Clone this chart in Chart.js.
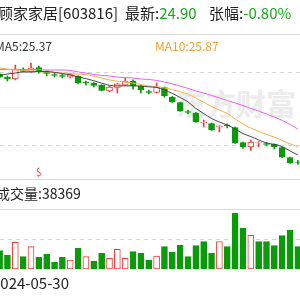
<!DOCTYPE html>
<html>
<head>
<meta charset="utf-8">
<script src="https://cdn.jsdelivr.net/npm/chart.js@4.4.1/dist/chart.umd.min.js"></script>
<style>
  body { margin: 0; background: #fff; }
  #box { position: relative; width: 300px; height: 300px; overflow: hidden; background: #fff;
         font-family: "Noto Sans CJK SC", "Noto Sans", sans-serif; }
  .hl { position: absolute; left: 0; width: 300px; height: 1px; background: #dcdcdc; }
  .dash { position: absolute; left: 0; width: 300px; height: 1px;
          background: repeating-linear-gradient(to right, #d4d4d4 0 4px, transparent 4px 8px); }
  .txt { position: absolute; white-space: nowrap; line-height: 1; }
  .up { color: #f23c3c; }
  .dn { color: #1fa51f; }
  canvas { position: absolute; left: 0; top: 0; }
</style>
</head>
<body>
<div id="box">
  <div class="hl" style="top:34px"></div>
  <div class="dash" style="top:72px"></div>
  <div class="hl" style="top:107px;width:150px;background:#efefef"></div>
  <div class="dash" style="top:145px"></div>
  <div class="hl" style="top:179px"></div>
  <div class="hl" style="top:209px"></div>
  <div class="dash" style="top:239px"></div>
  <div class="txt" style="left:176px;top:87px;font-size:30px;font-weight:bold;color:#ececec">东方财富</div>

  <canvas id="kline" width="300" height="300"></canvas>

  <div class="txt" style="left:-2px;top:5px;font-size:15px;color:#222">顾家家居[603816]</div>
  <div class="txt" style="left:125px;top:5px;font-size:15px;color:#222">最新:<span class="dn">24.90</span></div>
  <div class="txt" style="left:209px;top:5px;font-size:15px;color:#222">张幅:<span class="dn">-0.80%</span></div>
  <div class="txt" style="left:-5px;top:40px;font-size:12px;color:#333">MA5:25.37</div>
  <div class="txt" style="left:155px;top:40px;font-size:12px;color:#f0a030">MA10:25.87</div>
  <div class="txt up" style="left:36px;top:167px;font-size:10px">$</div>
  <div class="txt" style="left:-4px;top:186px;font-size:14px;color:#222">成交量:38369</div>
  <div class="txt" id="dateTick" style="left:-8px;top:275px;font-size:15px;color:#222"></div>
</div>

<script>
// daily candles, left to right (first and last are cut by the frame)
const opens  = [30.43, 30.24, 30.12, 30.74, 30.56, 30.84, 30.53, 30.40, 30.34, 30.24,
                30.28, 29.93, 29.87, 29.74, 29.37, 29.59, 29.74, 29.99, 29.68, 29.34,
                29.28, 29.59, 28.99, 28.65, 28.09, 27.99, 27.37, 27.34, 27.12, 27.24,
                27.09, 26.15, 25.87, 26.12, 26.09, 26.03, 25.84, 25.21, 24.93];
const highs  = [30.49, 30.31, 30.99, 30.81, 31.12, 30.93, 30.62, 30.49, 30.43, 30.49,
                30.31, 29.99, 29.90, 29.77, 29.68, 29.84, 30.18, 30.06, 29.71, 29.43,
                29.87, 29.62, 29.03, 28.68, 28.18, 28.03, 27.56, 27.37, 27.21, 27.31,
                27.12, 26.18, 26.31, 26.21, 26.15, 26.06, 25.87, 25.24, 25.03];
const lows   = [30.18, 29.99, 30.06, 30.56, 30.53, 30.49, 30.31, 30.24, 30.18, 30.18,
                29.81, 29.74, 29.62, 29.37, 29.31, 29.24, 29.71, 29.49, 29.24, 29.18,
                29.24, 28.99, 28.65, 28.09, 27.93, 27.40, 27.12, 26.90, 26.81, 27.06,
                26.09, 25.78, 25.65, 25.87, 25.93, 25.74, 25.21, 24.84, 24.78];
const closes = [30.24, 30.12, 30.74, 30.59, 30.81, 30.59, 30.46, 30.34, 30.28, 30.40,
                29.87, 29.87, 29.71, 29.40, 29.62, 29.81, 29.99, 29.68, 29.43, 29.28,
                29.62, 29.06, 28.68, 28.12, 28.03, 27.43, 27.43, 26.93, 27.18, 27.18,
                26.12, 25.87, 26.18, 26.15, 26.03, 25.87, 25.24, 24.87, 24.90];

const ma5  = [30.34, 30.43, 30.49, 30.56, 30.56, 30.59, 30.59, 30.53, 30.46, 30.37,
              30.26, 30.14, 30.01, 29.86, 29.72, 29.69, 29.69, 29.69, 29.68, 29.63,
              29.59, 29.43, 29.22, 28.96, 28.69, 28.28, 27.96, 27.65, 27.43, 27.24,
              26.99, 26.71, 26.52, 26.31, 26.12, 26.03, 25.89, 25.62, 25.37];
const ma10 = [30.81, 30.74, 30.68, 30.65, 30.62, 30.59, 30.56, 30.53, 30.49, 30.46,
              30.42, 30.39, 30.29, 30.18, 30.06, 29.98, 29.93, 29.86, 29.78, 29.68,
              29.64, 29.56, 29.46, 29.33, 29.17, 28.93, 28.67, 28.40, 28.17, 27.97,
              27.62, 27.30, 27.05, 26.85, 26.65, 26.49, 26.27, 26.07, 25.87];
const ma20 = [30.71, 30.71, 30.71, 30.71, 30.71, 30.71, 30.68, 30.68, 30.68, 30.65,
              30.56, 30.49, 30.40, 30.34, 30.31, 30.24, 30.21, 30.18, 30.12, 30.09,
              30.03, 29.93, 29.81, 29.68, 29.53, 29.37, 29.24, 29.09, 28.93, 28.78,
              28.62, 28.46, 28.28, 28.12, 27.93, 27.74, 27.53, 27.28, 26.99];

const volumes = [31500, 24100, 45900, 21200, 38400, 20100, 25800, 11500, 20100, 15500,
                 35600, 21200, 13800, 27000, 18400, 33900, 18400, 29800, 27000, 15500,
                 22400, 38400, 28700, 41300, 21200, 40100, 47000, 27000, 47000, 38400,
                 95800, 70000, 58000, 47000, 47000, 40100, 57300, 67100, 38369];
// red (hollow) volume bars
const volUp = [0, 0, 1, 0, 1, 0, 0, 0, 0, 1,
               0, 1, 0, 0, 1, 1, 1, 0, 0, 0,
               1, 0, 0, 0, 0, 0, 0, 0, 1, 0,
               0, 0, 1, 0, 0, 0, 0, 0, 0];
const dateLabels = ["2024-05-30"];

const RED = "#f23c3c";
const GREEN = "#0a9a0a";

document.getElementById("dateTick").textContent = dateLabels[0];

const up = opens.map((o, i) => closes[i] >= o);
const idx = opens.map((o, i) => i);

new Chart(document.getElementById("kline"), {
  type: "bar",
  data: {
    datasets: [
      { type: "line", label: "MA5", data: idx.map((i) => ({ x: i, y: ma5[i] })), yAxisID: "y",
        borderColor: "#444", borderWidth: 1, pointRadius: 0, cubicInterpolationMode: "monotone", order: 0 },
      { type: "line", label: "MA10", data: idx.map((i) => ({ x: i, y: ma10[i] })), yAxisID: "y",
        borderColor: "#f5b04a", borderWidth: 1, pointRadius: 0, cubicInterpolationMode: "monotone", order: 0 },
      { type: "line", label: "MA20", data: idx.map((i) => ({ x: i, y: ma20[i] })), yAxisID: "y",
        borderColor: "#ee5cee", borderWidth: 1, pointRadius: 0, cubicInterpolationMode: "monotone", order: 0 },
      { label: "body", data: idx.map((i) => ({ x: i, y: [opens[i], closes[i]] })), yAxisID: "y",
        backgroundColor: up.map((u) => (u ? "#fff" : GREEN)), borderColor: up.map((u) => (u ? RED : GREEN)),
        borderWidth: 1, borderSkipped: false, barThickness: 6, grouped: false, order: 1 },
      { label: "wick", data: idx.map((i) => ({ x: i, y: [lows[i], highs[i]] })), yAxisID: "y",
        backgroundColor: up.map((u) => (u ? RED : GREEN)), barThickness: 1, grouped: false, order: 2 },
      { label: "volume", data: idx.map((i) => ({ x: i, y: volumes[i] })), yAxisID: "yv",
        backgroundColor: volUp.map((u) => (u ? "#fff" : GREEN)), borderColor: volUp.map((u) => (u ? RED : GREEN)),
        borderWidth: 1, borderSkipped: false, barThickness: 6, grouped: false, order: 3 },
    ],
  },
  options: {
    responsive: false,
    animation: false,
    layout: { padding: 0 },
    plugins: { legend: { display: false }, tooltip: { enabled: false } },
    scales: {
      x: { type: "linear", min: 0.051, max: 38.268, offset: false, display: false },
      y: { min: 16.306, max: 35.056, display: false },
      yv: { min: -53320, max: 462680, display: false },
    },
  },
});
</script>
</body>
</html>
